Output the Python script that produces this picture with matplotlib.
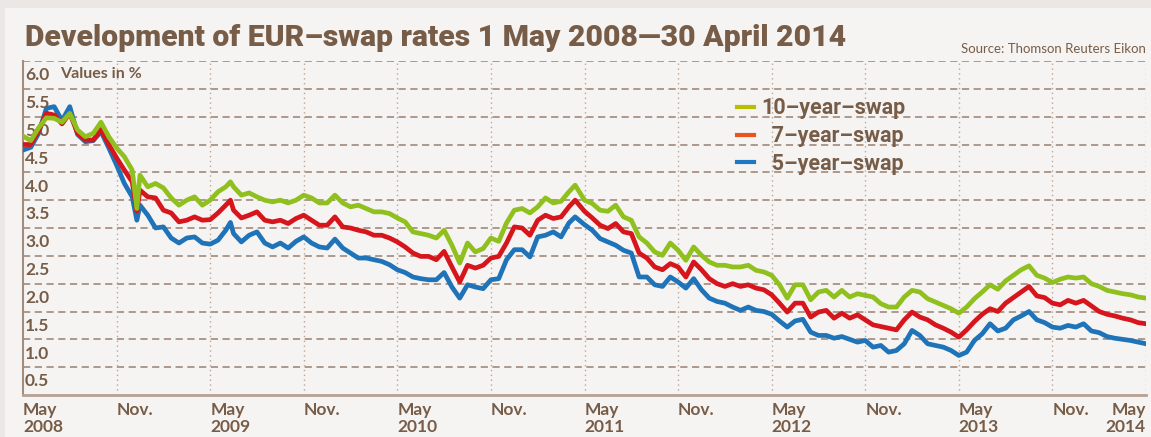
import matplotlib.pyplot as plt
from matplotlib.patches import Rectangle
from matplotlib.lines import Line2D
from matplotlib.font_manager import FontProperties

# months after 1 May 2008
months = [
    0, 0.5, 1, 1.5, 2, 2.5, 3, 3.5, 4, 4.5, 5, 5.5,
    6, 6.5, 7, 7.3, 7.5, 8, 8.5, 9, 9.5, 10, 10.5, 11, 11.5,
    12, 12.5, 13, 13.3, 13.5, 14, 14.5, 15, 15.5, 16, 16.5, 17, 17.5,
    18, 18.5, 19, 19.5, 20, 20.5, 21, 21.5, 22, 22.5, 23, 23.5,
    24, 24.5, 25, 25.5, 26, 26.5, 27, 27.5, 28, 28.5, 29, 29.5,
    30, 30.5, 31, 31.5, 32, 32.5, 33, 33.5, 34, 34.5, 35, 35.4,
    36, 36.5, 37, 37.5, 38, 38.5, 39, 39.5, 40, 40.5, 41, 41.5,
    42, 42.5, 43, 43.5, 44, 44.5, 45, 45.5, 46, 46.5, 47, 47.5,
    48, 48.5, 49, 49.5, 50, 50.5, 51, 51.5, 52, 52.5, 53, 53.5,
    54, 54.5, 55, 55.5, 56, 56.5, 57, 57.5, 58, 58.5, 59, 59.5,
    60, 60.5, 61, 61.5, 62, 62.5, 63, 63.5, 64, 64.5, 65, 65.5,
    66, 66.5, 67, 67.5, 68, 68.5, 69, 69.5, 70, 70.5, 71, 71.5, 72,
]

swap10 = [
    4.65, 4.57, 4.80, 4.98, 4.97, 4.90, 5.06, 4.76, 4.64, 4.70, 4.90, 4.64,
    4.44, 4.28, 4.04, 3.35, 3.95, 3.74, 3.80, 3.72, 3.54, 3.41, 3.50, 3.56, 3.41,
    3.50, 3.65, 3.74, 3.83, 3.74, 3.59, 3.63, 3.56, 3.50, 3.47, 3.50, 3.45, 3.50,
    3.59, 3.54, 3.45, 3.45, 3.59, 3.45, 3.38, 3.41, 3.35, 3.29, 3.29, 3.26,
    3.18, 3.11, 2.93, 2.90, 2.87, 2.82, 2.96, 2.69, 2.37, 2.73, 2.57, 2.63,
    2.82, 2.76, 3.09, 3.32, 3.35, 3.27, 3.38, 3.54, 3.45, 3.48, 3.65, 3.77,
    3.50, 3.44, 3.32, 3.30, 3.41, 3.20, 3.14, 2.84, 2.73, 2.57, 2.51, 2.73,
    2.60, 2.42, 2.66, 2.51, 2.39, 2.33, 2.33, 2.30, 2.30, 2.33, 2.24, 2.21,
    2.15, 1.98, 1.74, 1.98, 1.98, 1.71, 1.85, 1.88, 1.76, 1.88, 1.76, 1.82,
    1.79, 1.76, 1.64, 1.58, 1.58, 1.76, 1.88, 1.85, 1.73, 1.67, 1.61, 1.55,
    1.47, 1.58, 1.73, 1.85, 1.98, 1.90, 2.05, 2.15, 2.25, 2.32, 2.15, 2.10,
    2.02, 2.08, 2.12, 2.10, 2.12, 2.00, 1.95, 1.88, 1.85, 1.82, 1.80, 1.76, 1.74,
]

swap7 = [
    4.50, 4.50, 4.75, 5.06, 5.03, 4.87, 5.06, 4.70, 4.58, 4.58, 4.77, 4.50,
    4.26, 4.04, 3.83, 3.30, 3.68, 3.56, 3.54, 3.32, 3.27, 3.11, 3.14, 3.20, 3.14,
    3.15, 3.27, 3.41, 3.50, 3.32, 3.18, 3.23, 3.29, 3.14, 3.11, 3.14, 3.08, 3.17,
    3.23, 3.14, 3.05, 3.05, 3.20, 3.02, 3.00, 2.96, 2.93, 2.87, 2.87, 2.82,
    2.75, 2.66, 2.55, 2.49, 2.49, 2.43, 2.58, 2.30, 2.03, 2.33, 2.28, 2.33,
    2.46, 2.49, 2.73, 3.02, 3.00, 2.87, 3.14, 3.23, 3.17, 3.20, 3.38, 3.50,
    3.30, 3.18, 3.05, 2.99, 3.08, 2.93, 2.90, 2.55, 2.46, 2.30, 2.25, 2.36,
    2.30, 2.12, 2.39, 2.25, 2.09, 2.00, 1.95, 2.00, 1.95, 1.98, 1.92, 1.89,
    1.80, 1.65, 1.49, 1.65, 1.65, 1.40, 1.49, 1.52, 1.38, 1.47, 1.38, 1.44,
    1.35, 1.26, 1.23, 1.20, 1.17, 1.35, 1.49, 1.40, 1.35, 1.26, 1.20, 1.13,
    1.04, 1.17, 1.32, 1.45, 1.55, 1.50, 1.65, 1.75, 1.85, 1.95, 1.78, 1.75,
    1.65, 1.62, 1.70, 1.65, 1.70, 1.60, 1.50, 1.45, 1.42, 1.38, 1.35, 1.30, 1.28,
]

swap5 = [
    4.40, 4.45, 4.70, 5.15, 5.18, 4.93, 5.18, 4.68, 4.55, 4.57, 4.73, 4.44,
    4.13, 3.80, 3.56, 3.14, 3.41, 3.23, 3.00, 3.02, 2.82, 2.73, 2.82, 2.84, 2.73,
    2.71, 2.78, 2.96, 3.10, 2.90, 2.75, 2.87, 2.93, 2.73, 2.66, 2.73, 2.64, 2.76,
    2.84, 2.73, 2.66, 2.64, 2.80, 2.64, 2.55, 2.46, 2.46, 2.43, 2.40, 2.34,
    2.25, 2.20, 2.12, 2.09, 2.07, 2.07, 2.20, 1.94, 1.74, 1.98, 1.94, 1.91,
    2.07, 2.09, 2.43, 2.61, 2.61, 2.48, 2.84, 2.87, 2.93, 2.84, 3.09, 3.20,
    3.06, 2.96, 2.81, 2.75, 2.69, 2.60, 2.55, 2.12, 2.12, 1.98, 1.95, 2.12,
    2.03, 1.92, 2.09, 1.89, 1.74, 1.68, 1.65, 1.58, 1.52, 1.58, 1.52, 1.50,
    1.45, 1.33, 1.22, 1.33, 1.36, 1.13, 1.07, 1.07, 1.02, 1.05, 1.00, 0.95,
    0.98, 0.86, 0.89, 0.77, 0.80, 0.92, 1.16, 1.07, 0.92, 0.89, 0.86, 0.80,
    0.71, 0.77, 0.98, 1.10, 1.28, 1.15, 1.20, 1.35, 1.42, 1.50, 1.35, 1.30,
    1.22, 1.20, 1.25, 1.22, 1.28, 1.15, 1.12, 1.05, 1.02, 1.00, 0.98, 0.95, 0.92,
]

tick_months = [0, 6, 12, 18, 24, 30, 36, 42, 48, 54, 60, 66, 72]
tick_labels = ['May\n2008', 'Nov.', 'May\n2009', 'Nov.', 'May\n2010', 'Nov.',
               'May\n2011', 'Nov.', 'May\n2012', 'Nov.', 'May\n2013', 'Nov.',
               'May\n2014']
y_levels = [0.5, 1.0, 1.5, 2.0, 2.5, 3.0, 3.5, 4.0, 4.5, 5.0, 5.5, 6.0]

brown = '#775d48'
grid_col = '#a89283'

plt.rcParams['font.family'] = ['Lato', 'DejaVu Sans']

fig = plt.figure(figsize=(11.51, 4.37), dpi=100)
fig.patch.set_facecolor('#ebe7e4')
fig.add_artist(Rectangle((5 / 1151, 0), 1, 1 - 8 / 437, transform=fig.transFigure,
                         facecolor='#f6f4f2', edgecolor='none', zorder=0))

ax = fig.add_axes([23 / 1151, 1 - 395 / 437, 1123 / 1151, 334 / 437])
ax.set_facecolor('#f6f4f2')

# lines
ax.plot(months, swap5, color='#1f73b8', lw=3.4, solid_joinstyle='round', zorder=3)
ax.plot(months, swap7, color='#d7151c', lw=3.4, solid_joinstyle='round', zorder=4)
ax.plot(months, swap10, color='#8fc01e', lw=3.4, solid_joinstyle='round', zorder=5)

ax.set_xlim(0, 72)
ax.set_ylim(0, 6)

# grid
for v in y_levels:
    ax.axhline(v, color=grid_col, lw=1.3, ls=(0, (4, 2.5)), zorder=1)
for m in tick_months[1:]:
    ax.axvline(m, color='#b9a597', lw=1.0, ls=(0, (1, 2.5)), zorder=1)

for s in ['top', 'right']:
    ax.spines[s].set_visible(False)
ax.spines['left'].set_color('#a28d7f')
ax.spines['left'].set_linewidth(1.5)
ax.spines['bottom'].set_color('#b6a194')
ax.spines['bottom'].set_linewidth(2)

# y labels inside the plot, hanging below each gridline
ax.set_yticks([])
for v in y_levels:
    ax.annotate(f'{v:.1f}', xy=(0, v), xycoords=('axes fraction', 'data'),
                xytext=(1.5, -4.5), textcoords='offset points', ha='left', va='top',
                fontsize=12.5, fontweight='bold', color=brown)
ax.annotate('Values in %', xy=(0, 6.0), xycoords=('axes fraction', 'data'),
            xytext=(27, -4.5), textcoords='offset points', ha='left', va='top',
            fontsize=11.5, fontweight='bold', color=brown)

# x labels
ax.set_xticks(tick_months)
ax.set_xticklabels(tick_labels, fontsize=12.5, fontweight='bold', color=brown,
                   linespacing=1.1)
ax.tick_params(axis='x', length=0, pad=5)
for lbl in ax.get_xticklabels():
    lbl.set_ha('left')
    lbl.set_va('top')
ax.get_xticklabels()[-1].set_ha('right')

# legend
handles = [Line2D([], [], color='#b8bf00', lw=3),
           Line2D([], [], color='#e8561e', lw=3),
           Line2D([], [], color='#1f78c2', lw=3)]
labels = ['10\u2013year\u2013swap', '  7\u2013year\u2013swap', '  5\u2013year\u2013swap']
leg_font = FontProperties(family='Roboto', weight='bold', size=15.5)
leg = ax.legend(handles, labels, loc='upper left', bbox_to_anchor=(0.636, 0.891),
                frameon=False, handlelength=0.8, handletextpad=0.3,
                labelspacing=0.27, borderpad=0, borderaxespad=0, prop=leg_font)
for t in leg.get_texts():
    t.set_color(brown)

# title and source
fig.text(25 / 1151, 1 - 46 / 437, 'Development of EUR\u2013swap rates 1 May 2008\u201430 April 2014',
         fontsize=21.7, fontweight=900, color=brown, ha='left', va='baseline',
         family=['Roboto', 'DejaVu Sans'])
fig.text(1146 / 1151, 1 - 49 / 437, 'Source: Thomson Reuters Eikon',
         fontsize=9.5, color=brown, ha='right', va='center')

plt.savefig('out.png', dpi=100, facecolor=fig.get_facecolor())
